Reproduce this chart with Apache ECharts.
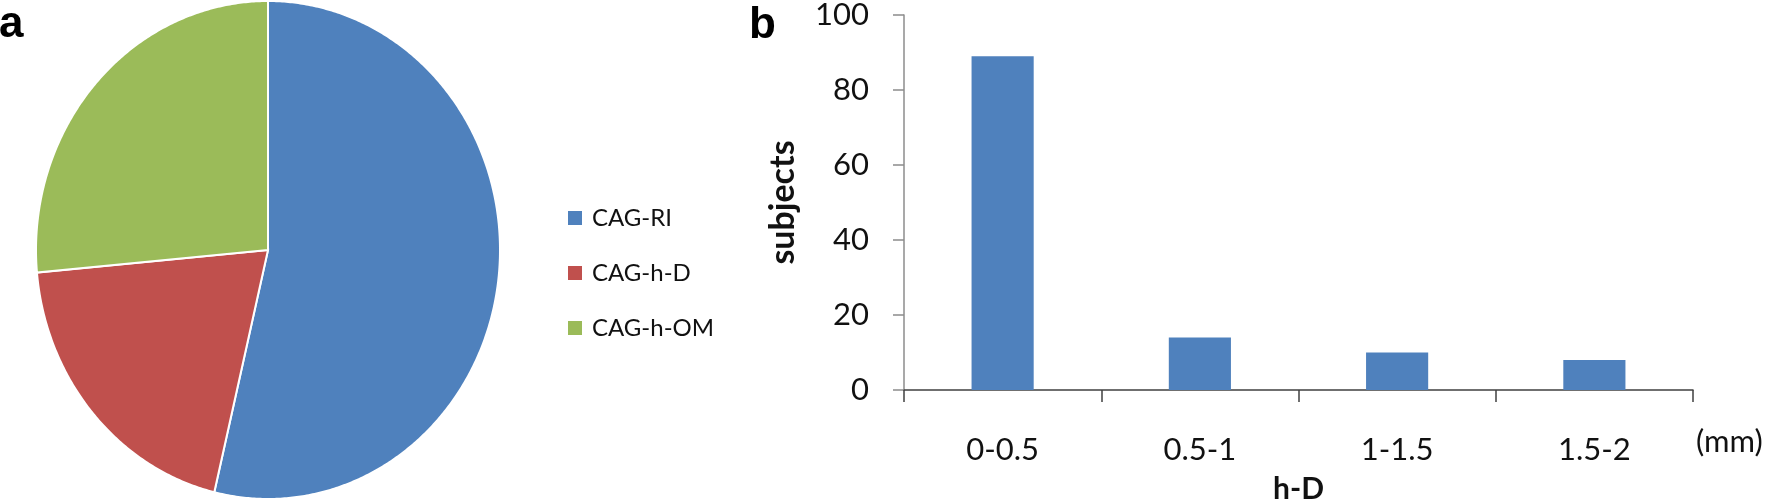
<!DOCTYPE html>
<html>
<head>
<meta charset="utf-8">
<script src="https://cdn.jsdelivr.net/npm/echarts@6/dist/echarts.min.js"></script>
<style>
html,body{margin:0;padding:0;background:#fff;}
#chart{width:1771px;height:502px;}
</style>
</head>
<body>
<div id="chart"></div>
<script>
// ---- data ----
const pieNames = ['CAG-RI', 'CAG-h-D', 'CAG-h-OM'];
const pieValues = [65, 24, 32];
const barCategories = ['0-0.5', '0.5-1', '1-1.5', '1.5-2'];
const barValues = [89, 14, 10, 8];
const yAxisMin = 0, yAxisMax = 100, yAxisStep = 20;

// ---- build ----
const pieColors = ['#4F81BD', '#C0504D', '#9BBB59'];
const total = pieValues.reduce((a, b) => a + b, 0);
let acc = 0;
const sliceRanges = pieValues.map(v => { const s = acc / total; acc += v; return [s, acc / total]; });

function renderSlice(params, api) {
  const s = api.value(0), e = api.value(1);
  const pts = [api.coord([0, 0])];
  const n = Math.max(2, Math.ceil((e - s) * 720));
  for (let i = 0; i <= n; i++) {
    const t = 2 * Math.PI * (s + (e - s) * i / n);
    pts.push(api.coord([Math.sin(t), Math.cos(t)]));
  }
  return {
    type: 'polygon',
    shape: { points: pts },
    style: { fill: api.visual('color'), stroke: '#ffffff', lineWidth: 2 }
  };
}

const FONT = 'Lato';
const chart = echarts.init(document.getElementById('chart'), null, { renderer: 'canvas' });
const option = {
  backgroundColor: '#ffffff',
  animation: false,
  title: [
    { text: 'a', left: -1, top: 3, padding: 0, textStyle: { fontFamily: 'Liberation Sans', fontWeight: 'bold', fontSize: 44, color: '#000' } },
    { text: 'b', left: 749, top: 4, padding: 0, textStyle: { fontFamily: 'Liberation Sans', fontWeight: 'bold', fontSize: 44, color: '#000' } },
    { text: '(mm)', left: 1696, top: 426, padding: 0, textStyle: { fontFamily: FONT, fontWeight: 'normal', fontSize: 31, color: '#111' } }
  ],
  legend: {
    data: pieNames,
    orient: 'vertical',
    left: 568,
    top: 206,
    padding: 0,
    itemWidth: 14,
    itemHeight: 14,
    itemGap: 31,
    icon: 'rect',
    selectedMode: false,
    textStyle: { fontFamily: FONT, fontSize: 24, color: '#111', padding: [0, 0, 0, 5] }
  },
  grid: [
    { left: 36, top: 1, width: 464, height: 498, outerBoundsMode: 'none', containLabel: false },
    { left: 904, top: 15, width: 789, height: 375, outerBoundsMode: 'none', containLabel: false }
  ],
  xAxis: [
    { gridIndex: 0, type: 'value', min: -1, max: 1, show: false },
    {
      gridIndex: 1, type: 'category', data: barCategories,
      name: 'h-D', nameLocation: 'middle', nameGap: 84,
      nameTextStyle: { fontFamily: FONT, fontWeight: 'bold', fontSize: 30, color: '#111' },
      axisLine: { show: true, lineStyle: { color: '#404040', width: 1.5 } },
      axisTick: { show: true, length: 12, lineStyle: { color: '#404040', width: 1.5 } },
      axisLabel: { margin: 44, fontFamily: FONT, fontSize: 31, color: '#111' },
      splitLine: { show: false }
    }
  ],
  yAxis: [
    { gridIndex: 0, type: 'value', min: -1, max: 1, show: false },
    {
      gridIndex: 1, type: 'value', min: yAxisMin, max: yAxisMax, interval: yAxisStep,
      name: 'subjects', nameLocation: 'middle', nameGap: 104, nameRotate: 90,
      nameTextStyle: { fontFamily: FONT, fontWeight: 'bold', fontSize: 34, color: '#111' },
      axisLine: { show: true, lineStyle: { color: '#8c8c8c', width: 1.5 } },
      axisTick: { show: true, length: 11, lineStyle: { color: '#8c8c8c', width: 1.5 } },
      axisLabel: { margin: 35, fontFamily: FONT, fontSize: 31, color: '#111' },
      splitLine: { show: false }
    }
  ],
  series: pieNames.map((name, i) => ({
    type: 'custom',
    name: name,
    xAxisIndex: 0,
    yAxisIndex: 0,
    itemStyle: { color: pieColors[i] },
    data: [sliceRanges[i]],
    renderItem: renderSlice,
    silent: true
  })).concat([{
    type: 'bar',
    name: 'subjects',
    xAxisIndex: 1,
    yAxisIndex: 1,
    data: barValues,
    barWidth: '31.5%',
    itemStyle: { color: '#4F81BD' },
    silent: true
  }])
};
chart.setOption(option);
</script>
</body>
</html>
